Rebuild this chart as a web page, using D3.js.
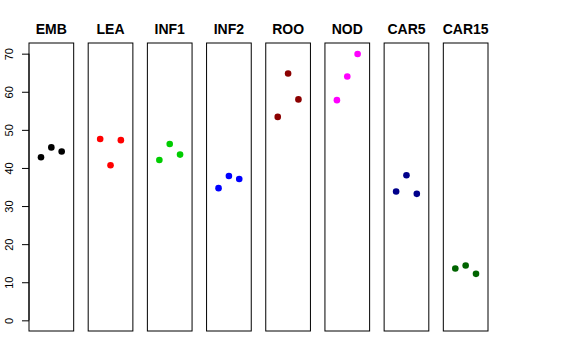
<!DOCTYPE html>
<html><head><meta charset="utf-8">
<script src="https://cdn.jsdelivr.net/npm/d3@7"></script>
<style>body{margin:0;background:#fff}svg{display:block}</style>
</head><body>
<script>
const categories = ["EMB","LEA","INF1","INF2","ROO","NOD","CAR5","CAR15"];
const colors = ["#000000","#FF0000","#00CD00","#0000FF","#8B0000","#FF00FF","#00008B","#006400"];
const values = [
  [42.8, 45.4, 44.3],
  [47.6, 40.7, 47.3],
  [42.1, 46.3, 43.5],
  [34.7, 37.9, 37.1],
  [53.4, 64.8, 58.0],
  [57.8, 64.0, 69.9],
  [33.8, 38.1, 33.2],
  [13.6, 14.4, 12.2]
];
const yTicks = [0,10,20,30,40,50,60,70];

const W = 576, H = 360;
const svg = d3.select("body").append("svg").attr("width", W).attr("height", H);

const plotTop = 43, plotBottom = 331;
const y = d3.scaleLinear().domain([-2.8, 72.8]).range([plotBottom, plotTop]);
const panel = d3.scaleBand().domain(categories).range([29, 488]).paddingInner(0.245).paddingOuter(0);
const x = d3.scaleLinear().domain([-0.16, 4.16]);

categories.forEach((c, i) => {
  const x0 = panel(c), w = panel.bandwidth();
  x.range([x0, x0 + w]);
  const g = svg.append("g");
  g.append("rect").attr("x", x0).attr("y", plotTop).attr("width", w).attr("height", plotBottom - plotTop)
    .attr("fill", "none").attr("stroke", "#000").attr("stroke-width", 1);
  g.append("text").attr("x", x0 + w / 2).attr("y", 34.3).attr("text-anchor", "middle")
    .attr("font-family", "Liberation Sans, Arial, sans-serif").attr("font-weight", "bold")
    .attr("font-size", 14).text(c);
  g.selectAll("circle").data(values[i]).enter().append("circle")
    .attr("cx", (d, j) => x(j + 1)).attr("cy", d => y(d)).attr("r", 3.3)
    .attr("fill", colors[i]);
});

const axisG = svg.append("g").attr("transform", `translate(${panel(categories[0])},0)`);
axisG.call(d3.axisLeft(y).tickValues(yTicks).tickSize(7).tickSizeOuter(0).tickPadding(0));
axisG.select(".domain").attr("d", `M0,${y(0)}V${y(70)}`).attr("stroke", "#000");
axisG.selectAll(".tick line").attr("stroke", "#000");
axisG.selectAll(".tick text").remove();
axisG.selectAll(".tick").append("text")
  .attr("transform", "translate(-16.5,0) rotate(-90)")
  .attr("text-anchor", "middle").attr("fill", "#000")
  .attr("font-family", "Liberation Sans, Arial, sans-serif").attr("font-size", 11)
  .text(d => d);
</script>
</body></html>
